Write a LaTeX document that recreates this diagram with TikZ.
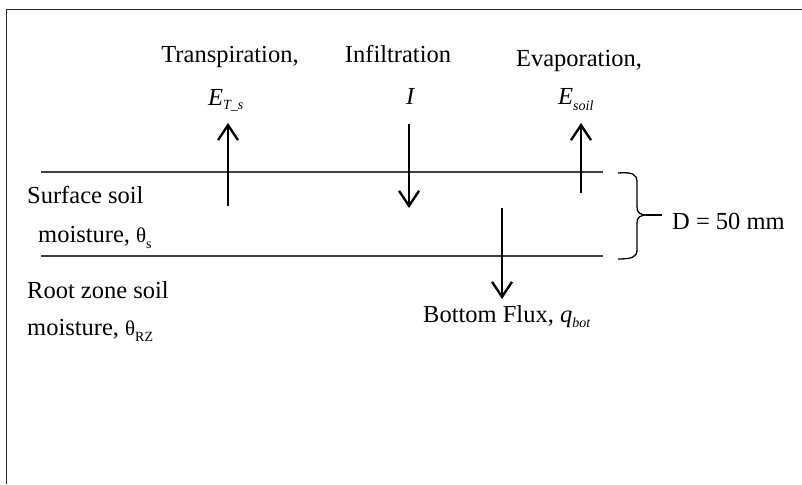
\documentclass[tikz,border=0pt]{standalone}
\usepackage{fontspec}
\setmainfont{Liberation Serif}
\usetikzlibrary{arrows.meta}
\newcommand{\lowsub}[2]{\raisebox{-#1}{\fontsize{14}{14}\selectfont #2}}
\tikzset{
  lbl/.style={inner sep=0pt, anchor=base, font=\fontsize{24.5}{28}\selectfont},
  lbll/.style={inner sep=0pt, anchor=base west, font=\fontsize{24.5}{28}\selectfont},
  flux/.style={line width=2.4pt, -{Straight Barb[length=15pt,width=20pt,line width=2.4pt]}},
  layer/.style={line width=1.5pt, draw={black!75}},
  frame/.style={line width=1.6pt, draw=black!85},
}
\begin{document}
\begin{tikzpicture}[x=1pt,y=-1pt]
\useasboundingbox (0,0) rectangle (802,484);
\draw[frame] (6.5,484) -- (6.5,9.5) -- (802,9.5);
% layers
\coordinate (l1a) at (41,172);
\coordinate (l1b) at (603,172);
\coordinate (l2a) at (41,256);
\coordinate (l2b) at (603,256);
\draw[layer] (l1a) -- (l1b);
\draw[layer] (l2a) -- (l2b);
% arrows
\coordinate (tr0) at (228,206); \coordinate (tr1) at (228,123);
\coordinate (in0) at (409,124); \coordinate (in1) at (409,208);
\coordinate (ev0) at (581,193); \coordinate (ev1) at (581,123);
\coordinate (bf0) at (502,208); \coordinate (bf1) at (502,299);
\draw[flux] (tr0) -- (tr1);
\draw[flux] (in0) -- (in1);
\draw[flux] (ev0) -- (ev1);
\draw[flux] (bf0) -- (bf1);
% labels
\node[lbl] (trn) at (230,63) {Transpiration,};
\node[lbll] (ets) at (208,106) {\itshape E\lowsub{0.35ex}{T\_s}};
\node[lbl] (inf) at (398,63) {Infiltration};
\node[lbll] (ii) at (406,105) {\itshape I};
\node[lbl] (evp) at (579,67) {Evaporation,};
\node[lbll] (esl) at (558,105) {\itshape E\lowsub{0.45ex}{soil}};
\node[lbll] (ss1) at (27,203) {Surface soil};
\node[lbll] (ss2) at (38,242) {moisture, {\fontsize{21}{21}\selectfont θ}\lowsub{0.55ex}{s}};
\node[lbll] (rz1) at (27,298) {Root zone soil};
\node[lbll] (rz2) at (27,335) {moisture, {\fontsize{21}{21}\selectfont θ}\lowsub{0.55ex}{RZ}};
\node[lbll] (bfl) at (423,322) {Bottom Flux, \textit{q}\lowsub{0.45ex}{\itshape bot}};
\node[lbll] (dd) at (672,229) {D = 50 mm};
% brace
\draw[line width=1.3pt] (618,173) .. controls (632,172) and (637,174) .. (637,182) -- (637,207)
  .. controls (637,213) and (640,215) .. (648,215)
  .. controls (640,215) and (637,217) .. (637,223) -- (637,250)
  .. controls (637,257) and (632,259) .. (618,259);
\coordinate (btip) at (646,215);
\draw[line width=1.3pt] (btip) -- (662,215);
\end{tikzpicture}
\end{document}
